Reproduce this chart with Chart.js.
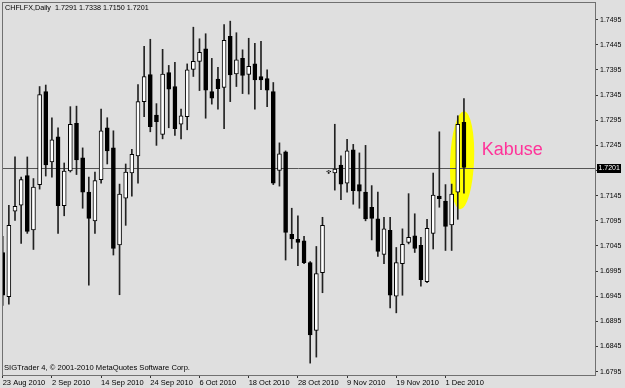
<!DOCTYPE html>
<html><head><meta charset="utf-8">
<script src="https://cdn.jsdelivr.net/npm/chart.js@4/dist/chart.umd.min.js"></script>
<style>html,body{margin:0;padding:0;background:#dfdfdf;overflow:hidden}canvas{display:block}</style>
</head><body>
<canvas id="c" width="625" height="388"></canvas>
<script>
const symbolTitle = 'CHFLFX,Daily';
const noteText = 'Kabuse';
const copyright = 'SIGTrader 4, \u00A9 2001-2010 MetaQuotes Software Corp.';

const dates = ['23 Aug 2010','24 Aug 2010','25 Aug 2010','26 Aug 2010','27 Aug 2010','30 Aug 2010','31 Aug 2010','1 Sep 2010','2 Sep 2010','3 Sep 2010',
 '6 Sep 2010','7 Sep 2010','8 Sep 2010','9 Sep 2010','10 Sep 2010','13 Sep 2010','14 Sep 2010','15 Sep 2010','16 Sep 2010','17 Sep 2010',
 '20 Sep 2010','21 Sep 2010','22 Sep 2010','23 Sep 2010','24 Sep 2010','27 Sep 2010','28 Sep 2010','29 Sep 2010','30 Sep 2010','1 Oct 2010',
 '4 Oct 2010','5 Oct 2010','6 Oct 2010','7 Oct 2010','8 Oct 2010','11 Oct 2010','12 Oct 2010','13 Oct 2010','14 Oct 2010','15 Oct 2010',
 '18 Oct 2010','19 Oct 2010','20 Oct 2010','21 Oct 2010','22 Oct 2010','25 Oct 2010','26 Oct 2010','27 Oct 2010','28 Oct 2010','29 Oct 2010',
 '1 Nov 2010','2 Nov 2010','3 Nov 2010','4 Nov 2010','5 Nov 2010','8 Nov 2010','9 Nov 2010','10 Nov 2010','11 Nov 2010','12 Nov 2010',
 '15 Nov 2010','16 Nov 2010','17 Nov 2010','18 Nov 2010','19 Nov 2010','22 Nov 2010','23 Nov 2010','24 Nov 2010','25 Nov 2010','26 Nov 2010',
 '29 Nov 2010','30 Nov 2010','1 Dec 2010','2 Dec 2010','3 Dec 2010','6 Dec 2010'];

const opens = [1.7032,1.6944,1.7114,1.7126,1.7185,1.7077,1.7167,1.7352,1.7212,1.7262,
 1.7125,1.7194,1.7289,1.7220,1.7152,1.7095,1.7177,1.7280,1.7240,1.7047,
 1.7140,1.7190,1.7224,1.7332,1.7386,1.7305,1.7267,1.7390,1.7362,1.7287,
 1.7302,1.7396,1.7412,1.7437,1.7352,1.7377,1.7360,1.7462,1.7387,1.7418,
 1.7386,1.7407,1.7382,1.7378,1.7352,1.7195,1.7232,1.7068,1.7058,1.7055,
 1.7012,1.6877,1.6992,1.7192,1.7190,1.7206,1.7170,1.7236,1.7167,1.7152,
 1.7122,1.7099,1.7028,1.7076,1.6945,1.7010,1.7052,1.7065,1.7046,1.6974,
 1.7070,1.7144,1.7134,1.7087,1.7152,1.7291];
const highs = [1.7064,1.7126,1.7222,1.7182,1.7222,1.7179,1.7362,1.7365,1.7300,1.7280,
 1.7210,1.7322,1.7323,1.7240,1.7182,1.7192,1.7317,1.7300,1.7274,1.7168,
 1.7208,1.7237,1.7366,1.7442,1.7456,1.7328,1.7436,1.7404,1.7410,1.7317,
 1.7407,1.7480,1.7457,1.7467,1.7418,1.7400,1.7485,1.7492,1.7469,1.7435,
 1.7458,1.7448,1.7452,1.7395,1.7370,1.7250,1.7234,1.7120,1.7105,1.7064,
 1.7014,1.7044,1.7102,1.7195,1.7287,1.7224,1.7257,1.7247,1.7230,1.7245,
 1.7165,1.7152,1.7102,1.7102,1.7042,1.7079,1.7149,1.7109,1.7062,1.7098,
 1.7190,1.7272,1.7167,1.7168,1.7304,1.7338];
const lows = [1.6927,1.6929,1.7096,1.7050,1.7070,1.7038,1.7158,1.7184,1.7182,1.7070,
 1.7105,1.7192,1.7187,1.7120,1.6967,1.7070,1.7170,1.7208,1.7027,1.6948,
 1.7086,1.7144,1.7170,1.7302,1.7272,1.7245,1.7258,1.7280,1.7265,1.7258,
 1.7276,1.7382,1.7354,1.7299,1.7327,1.7317,1.7278,1.7332,1.7362,1.7348,
 1.7347,1.7317,1.7356,1.7322,1.7167,1.7164,1.7017,1.7040,1.7006,1.7010,
 1.6812,1.6824,1.6952,1.7189,1.7156,1.7137,1.7152,1.7128,1.7120,1.7095,
 1.7057,1.7024,1.7010,1.6922,1.6912,1.6947,1.7049,1.7032,1.6965,1.6972,
 1.7039,1.7122,1.7036,1.7036,1.7098,1.7150];
const closes = [1.6947,1.7086,1.7124,1.7177,1.7074,1.7162,1.7346,1.7206,1.7256,1.7125,
 1.7194,1.7287,1.7216,1.7152,1.7100,1.7175,1.7274,1.7234,1.7040,1.7148,
 1.7192,1.7227,1.7332,1.7382,1.7282,1.7292,1.7387,1.7357,1.7278,1.7304,
 1.7395,1.7412,1.7430,1.7355,1.7339,1.7358,1.7454,1.7385,1.7415,1.7384,
 1.7402,1.7375,1.7375,1.7355,1.7170,1.7228,1.7072,1.7059,1.7052,1.7012,
 1.6868,1.6990,1.7086,1.7192,1.7198,1.7168,1.7234,1.7155,1.7154,1.7099,
 1.7100,1.7034,1.7079,1.6947,1.7012,1.7048,1.7062,1.7040,1.6978,1.7080,
 1.7146,1.7139,1.7084,1.7148,1.7287,1.7201];

const xTickLabels = ['23 Aug 2010','2 Sep 2010','14 Sep 2010','24 Sep 2010','6 Oct 2010','18 Oct 2010','28 Oct 2010','9 Nov 2010','19 Nov 2010','1 Dec 2010'];
const yTickValues = [1.6795,1.6845,1.6895,1.6945,1.6995,1.7045,1.7095,1.7145,1.7195,1.7245,1.7295,1.7345,1.7395,1.7445,1.7495];

// annotation (highlight ellipse around the last two candles, and note text)
const highlight = { center: 74.7, halfWidth: 1.95, top: 1.7313, bottom: 1.7118 };
const notePos = { index: 77.9, value: 1.7226 };

const FONT = "'Liberation Sans', Arial, sans-serif";
Chart.defaults.font.family = FONT;
Chart.defaults.font.size = 7.5;
Chart.defaults.color = '#000';

const last = closes.length - 1;
const ohlcText = [opens[last], highs[last], lows[last], closes[last]].map(v => v.toFixed(4)).join(' ');

const chrome = {
  id: 'chrome',
  beforeDraw(chart) {
    const {ctx, width, height} = chart;
    ctx.save(); ctx.fillStyle = '#dfdfdf'; ctx.fillRect(0, 0, width, height); ctx.restore();
  },
  beforeDatasetsDraw(chart) {
    const {ctx, chartArea: a, scales: {x, y}} = chart;
    ctx.save();
    const cx = x.getPixelForValue(highlight.center);
    const rx = x.getPixelForValue(highlight.center + highlight.halfWidth) - cx;
    const t = y.getPixelForValue(highlight.top), b = y.getPixelForValue(highlight.bottom);
    ctx.fillStyle = '#ffff00';
    ctx.beginPath(); ctx.ellipse(cx, (t + b) / 2, rx, (b - t) / 2, 0.04, 0, Math.PI * 2); ctx.fill();
    const py = Math.round(y.getPixelForValue(closes[last])) + 0.5;
    ctx.strokeStyle = '#555'; ctx.lineWidth = 1;
    ctx.beginPath(); ctx.moveTo(a.left, py); ctx.lineTo(a.right, py); ctx.stroke();
    ctx.restore();
  },
  afterDraw(chart) {
    const {ctx, chartArea: a, scales: {x, y}} = chart;
    ctx.save();
    ctx.strokeStyle = '#707070'; ctx.lineWidth = 1;
    ctx.strokeRect(a.left + 0.5, a.top + 0.5, a.right - a.left, a.bottom - a.top);
    ctx.fillStyle = '#000';
    ctx.textBaseline = 'alphabetic'; ctx.textAlign = 'left';
    ctx.font = '7.2px ' + FONT;
    ctx.fillText(symbolTitle + '  ' + ohlcText, a.left + 3, a.top + 8);
    ctx.font = '7.6px ' + FONT;
    ctx.fillText(copyright, a.left + 2, a.bottom - 5);
    ctx.fillStyle = '#ff3399';
    ctx.font = '18px ' + FONT;
    ctx.fillText(noteText, x.getPixelForValue(notePos.index), y.getPixelForValue(notePos.value));
    const py = Math.round(y.getPixelForValue(closes[last]));
    ctx.fillStyle = '#000';
    ctx.fillRect(a.right + 2, py - 4, 24, 9);
    ctx.fillStyle = '#fff';
    ctx.font = '7px ' + FONT;
    ctx.textBaseline = 'middle';
    ctx.fillText(closes[last].toFixed(4), a.right + 3.5, py + 0.5);
    ctx.restore();
  }
};

new Chart(document.getElementById('c'), {
  type: 'bar',
  data: {
    datasets: [
      {
        label: 'body',
        data: opens.map((o, i) => ({x: i, y: [o, closes[i]]})),
        barThickness: 4, minBarLength: 1, grouped: false,
        borderSkipped: false, borderWidth: 1, borderColor: '#000',
        backgroundColor: c => closes[c.dataIndex] >= opens[c.dataIndex] ? '#fff' : '#000'
      },
      {
        label: 'wick',
        data: lows.map((l, i) => ({x: i, y: [l, highs[i]]})),
        barThickness: 1, grouped: false, borderWidth: 0, backgroundColor: '#222'
      }
    ]
  },
  options: {
    responsive: false, animation: false, devicePixelRatio: 1,
    layout: {padding: {left: 2, top: 2, right: 0, bottom: 0}},
    plugins: {legend: {display: false}, tooltip: {enabled: false}},
    scales: {
      x: {
        type: 'linear', offset: false, min: -0.114, max: 96.31,
        grid: {offset: false, drawOnChartArea: false, drawTicks: true, tickLength: 3, color: '#333'},
        border: {display: false},
        ticks: {autoSkip: false, maxRotation: 0, align: 'start', padding: 0, callback: v => dates[v]},
        afterBuildTicks: s => { s.ticks = xTickLabels.map(l => ({value: dates.indexOf(l)})); },
        afterFit: s => { s.height = 13; s.paddingLeft = 0; s.paddingRight = 0; }
      },
      y: {
        type: 'linear', position: 'right', min: 1.67884, max: 1.75301, beginAtZero: false,
        grid: {drawOnChartArea: false, drawTicks: true, tickLength: 3, color: '#333'},
        border: {display: false},
        ticks: {autoSkip: false, padding: 2, font: {size: 7}, callback: v => Number(v).toFixed(4)},
        afterBuildTicks: s => { s.ticks = yTickValues.map(v => ({value: v})); },
        afterFit: s => { s.width = 30; s.paddingTop = 0; s.paddingBottom = 0; }
      }
    }
  },
  plugins: [chrome]
});
</script>
</body></html>
